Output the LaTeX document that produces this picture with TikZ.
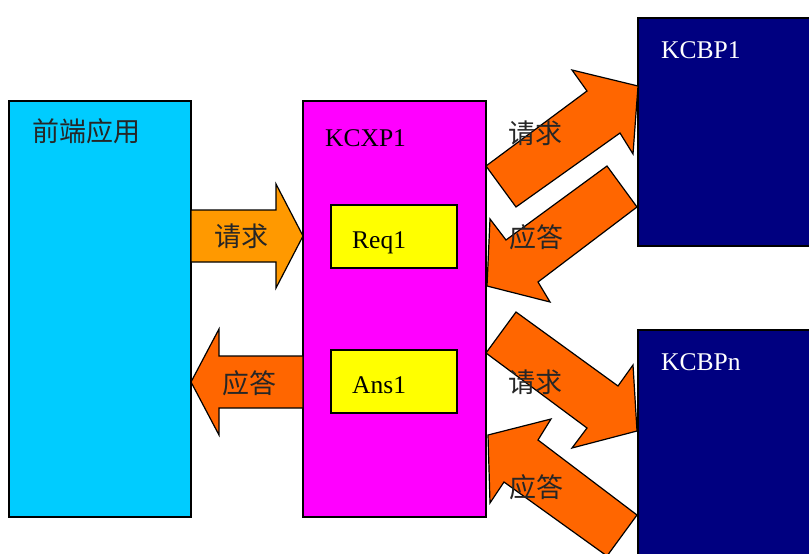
\documentclass[tikz,border=0pt]{standalone}
\usepackage{fontspec}
\setmainfont{Liberation Serif}
\newfontfamily\cjk{Noto Sans CJK SC}
\usetikzlibrary{calc}
\definecolor{appblue}{HTML}{00CCFF}
\definecolor{kcxppink}{HTML}{FF00FF}
\definecolor{kcbpnavy}{HTML}{000080}
\definecolor{reqorange}{HTML}{FF9900}
\definecolor{ansorange}{HTML}{FF6600}
\definecolor{boxyellow}{HTML}{FFFF00}
\tikzset{
	box/.style={draw=black, line width=1.2pt},
	blockarrow/.style={draw=black, line width=1.2pt, line join=miter, fill=ansorange},
	lbl/.style={font=\cjk\fontsize{27}{27}\selectfont, text=black!85, inner sep=0pt},
	boxtext/.style={font=\fontsize{25.5}{25.5}\selectfont, inner sep=0pt, anchor=base west}
}

\begin{document}
\begin{tikzpicture}[x=1pt, y=-1pt]
		%%%%% START %%%%%
		\useasboundingbox (0, 0) rectangle (809, 554);
		\clip (0, 0) rectangle (809, 554);
		
		% boxes
		\draw[box, fill=appblue] (9, 101) rectangle (191, 517);
		\draw[box, fill=kcxppink] (303, 101) rectangle (486, 517);
		\draw[box, fill=kcbpnavy] (638, 18) rectangle (815, 246);
		\draw[box, fill=kcbpnavy] (638, 330) rectangle (815, 560);
		\draw[box, fill=boxyellow] (331, 205) rectangle (457, 268);
		\draw[box, fill=boxyellow] (331, 350) rectangle (457, 413);
		
		% left arrows
		\draw[blockarrow, fill=reqorange] (191, 210) -- (276, 210) -- (276, 184) -- (303, 236)
			-- (276, 288) -- (276, 262) -- (191, 262) -- cycle;
		\draw[blockarrow] (303, 356) -- (219, 356) -- (219, 329) -- (191, 382)
			-- (219, 435) -- (219, 408) -- (303, 408) -- cycle;
		
		% right arrows, upper
		\draw[blockarrow] (486, 166) -- (587, 91) -- (572, 70) -- (638, 86)
			-- (633, 154) -- (620, 133) -- (516, 207) -- cycle;
		\draw[blockarrow] (607, 166) -- (637, 207) -- (538, 282) -- (550, 302)
			-- (487, 286) -- (490, 219) -- (506, 240) -- cycle;
		
		% right arrows, lower
		\draw[blockarrow] (516, 312) -- (618, 386) -- (633, 365) -- (637, 431)
			-- (572, 448) -- (587, 428) -- (486, 353) -- cycle;
		\draw[blockarrow] (488, 435) -- (551, 419) -- (538, 440) -- (637, 515)
			-- (607, 556) -- (504, 482) -- (490, 503) -- cycle;
		
		% texts
		\node[lbl] (app) at (86, 131) {前端应用};
		\node[boxtext] (kcxp) at (325, 146) {KCXP1};
		\node[boxtext, text=white] (kcbp1) at (661, 58) {KCBP1};
		\node[boxtext, text=white] (kcbpn) at (661, 370) {KCBPn};
		\node[boxtext] (req1) at (352, 248) {Req1};
		\node[boxtext] (ans1) at (352, 393) {Ans1};
		
		\node[lbl] (reqleft) at (241, 236) {请求};
		\node[lbl] (ansleft) at (249, 383) {应答};
		\node[lbl] (reqtop) at (535, 133) {请求};
		\node[lbl] (anstop) at (536, 237) {应答};
		\node[lbl] (reqbot) at (535, 382) {请求};
		\node[lbl] (ansbot) at (536, 487) {应答};
		%%%%% END %%%%%
	\end{tikzpicture}
\end{document}
